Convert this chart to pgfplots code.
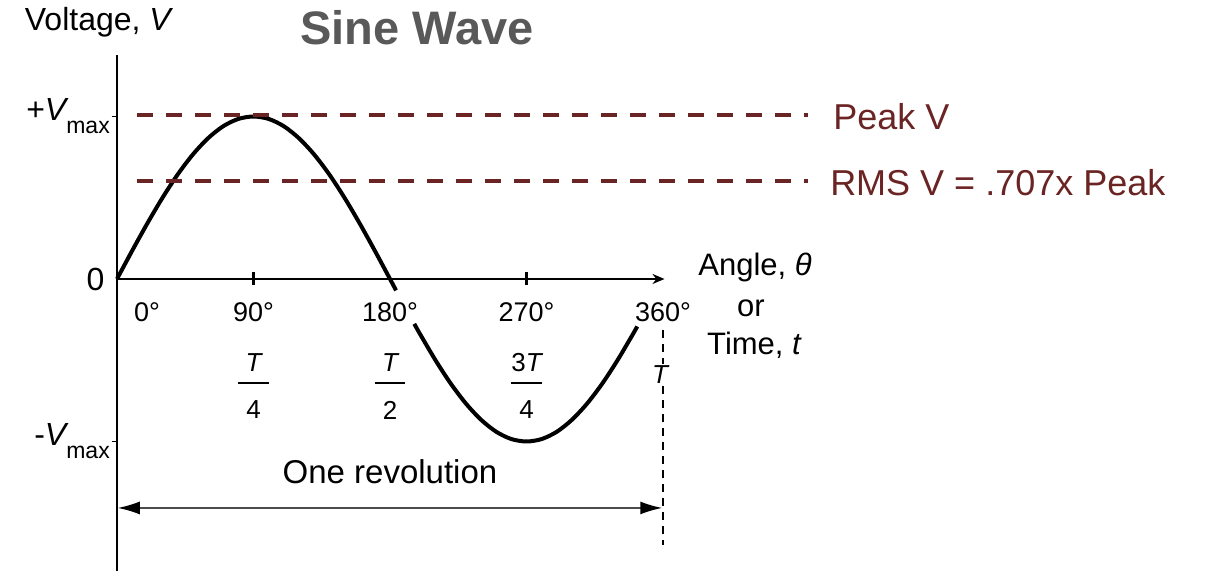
\documentclass[border=0pt]{standalone}
\usepackage{pgfplots}
\pgfplotsset{compat=1.18}
\usepackage{fontspec}
\setmainfont{Liberation Sans}
\usetikzlibrary{arrows.meta}
\definecolor{peakred}{HTML}{6B2424}
\definecolor{titlegray}{HTML}{595959}

\begin{document}
\begin{tikzpicture}[
    lbl/.style={font=\fontsize{16}{16}\selectfont, inner sep=0pt},
    deg/.style={font=\fontsize{13.5}{13.5}\selectfont, inner sep=0pt},
    frac/.style={font=\fontsize{13}{13}\selectfont, inner sep=0pt}]
  \begin{axis}[width=602.5pt, height=285.5pt, scale only axis,
    xmin=-77.14, xmax=717.35, ymin=-1.797, ymax=1.717,
    axis lines=none, clip=false]
    \path (rel axis cs:0,0) rectangle (rel axis cs:1,1);

    % axes
    \draw[line width=1pt] (axis cs:0,1.378) -- (axis cs:0,-1.797);
    \draw[line width=1pt, -{Stealth[length=6pt,width=5pt]}] (axis cs:0,0) -- (axis cs:361,0);
    \draw[line width=1.2pt] (axis cs:90,0.04) -- (axis cs:90,-0.04);
    \draw[line width=1.2pt] (axis cs:270,0.04) -- (axis cs:270,-0.04);
    \draw[line width=0.8pt] (axis cs:-3.5,1) -- (axis cs:0,1);
    \draw[line width=0.8pt] (axis cs:-3.5,-1) -- (axis cs:0,-1);

    % sine wave, drawn in two pieces around the 180 and 360 labels
    \addplot[black, line width=2pt, smooth] coordinates {
      (0,0) (10,0.174) (20,0.342) (30,0.5) (40,0.643) (50,0.766) (60,0.866)
      (70,0.940) (80,0.985) (90,1) (100,0.985) (110,0.940) (120,0.866)
      (130,0.766) (140,0.643) (150,0.5) (160,0.342) (170,0.174) (180,0) (184,-0.07)};
    \addplot[black, line width=2pt, smooth] coordinates {
      (196,-0.276) (200,-0.342) (210,-0.5) (220,-0.643) (230,-0.766) (240,-0.866)
      (250,-0.940) (260,-0.985) (270,-1) (280,-0.985) (290,-0.940) (300,-0.866)
      (310,-0.766) (320,-0.643) (330,-0.5) (340,-0.342) (343,-0.292)};

    % peak and rms lines
    \addplot[peakred, line width=1.7pt, dash pattern=on 8pt off 6.5pt] coordinates {(13.2,1.01) (455.6,1.01)};
    \addplot[peakred, line width=1.7pt, dash pattern=on 8pt off 6.5pt] coordinates {(13.2,0.603) (455.6,0.603)};
    \node[anchor=west, text=peakred, font=\fontsize{18}{18}\selectfont, inner sep=0pt] at (axis cs:472,1.0) {Peak V};
    \node[anchor=west, text=peakred, font=\fontsize{18}{18}\selectfont, inner sep=0pt] at (axis cs:470,0.59) {RMS V = .707x Peak};

    % title and y label
    \node[text=titlegray, font=\bfseries\fontsize{23.5}{23.5}\selectfont, inner sep=0pt] at (axis cs:197.8,1.545) {Sine Wave};
    \node[lbl, anchor=west] at (axis cs:-61,1.582) {Voltage, {\itshape V}};

    % y tick labels
    \node[lbl, anchor=east] at (axis cs:-8,0) {0};
    \node[lbl, anchor=east] at (axis cs:-4.5,1.0) {+{\itshape V}\raisebox{-0.4em}{\fontsize{11.5}{11.5}\selectfont max}};
    \node[lbl, anchor=east] at (axis cs:-4.5,-1.0) {-{\itshape V}\raisebox{-0.4em}{\fontsize{11.5}{11.5}\selectfont max}};

    % angle labels
    \node[deg] at (axis cs:19.8,-0.203) {0°};
    \node[deg] at (axis cs:90,-0.203) {90°};
    \node[deg] at (axis cs:180,-0.203) {180°};
    \node[deg] at (axis cs:270,-0.203) {270°};
    \node[deg] at (axis cs:360,-0.203) {360°};

    % time fractions
    \node[frac] at (axis cs:90,-0.517) {\itshape T};
    \node[frac] at (axis cs:180,-0.517) {\itshape T};
    \node[frac] at (axis cs:270,-0.517) {3\itshape T};
    \draw[line width=0.9pt] (axis cs:80.1,-0.64) -- (axis cs:99.9,-0.64);
    \draw[line width=0.9pt] (axis cs:170.1,-0.64) -- (axis cs:189.9,-0.64);
    \draw[line width=0.9pt] (axis cs:260.1,-0.64) -- (axis cs:279.9,-0.64);
    \node[frac] at (axis cs:90,-0.806) {4};
    \node[frac] at (axis cs:180,-0.806) {2};
    \node[frac] at (axis cs:270,-0.806) {4};

    % x axis title
    \node[lbl, font=\fontsize{15.5}{15.5}\selectfont] at (axis cs:420.7,0.068) {Angle, {\itshape θ}};
    \node[lbl, font=\fontsize{15.5}{15.5}\selectfont] at (axis cs:418,-0.178) {or};
    \node[lbl, font=\fontsize{15.5}{15.5}\selectfont] at (axis cs:420,-0.406) {Time, {\itshape t}};

    % period marker
    \draw[line width=0.6pt, dash pattern=on 4pt off 3pt] (axis cs:360,-0.314) -- (axis cs:360,-1.637);
    \node[frac, fill=white, inner sep=1pt] at (axis cs:358,-0.59) {\itshape T};
    \draw[line width=0.8pt, gray!60!black, {Latex[length=11pt,width=6.5pt,color=black]}-{Latex[length=11pt,width=6.5pt,color=black]}]
      (axis cs:0.5,-1.409) -- (axis cs:359.5,-1.409);
    \node[lbl, font=\fontsize{16.5}{16.5}\selectfont] at (axis cs:180,-1.188) {One revolution};
  \end{axis}
\end{tikzpicture}
\end{document}
